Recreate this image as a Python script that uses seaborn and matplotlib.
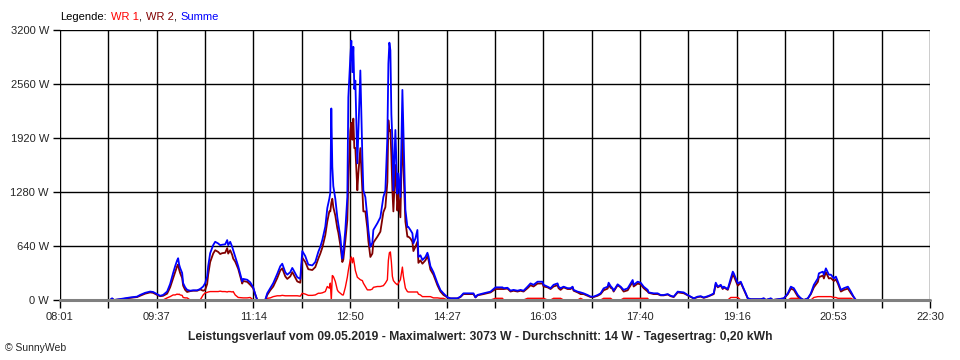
import matplotlib
matplotlib.use("Agg")
import matplotlib.pyplot as plt
import seaborn as sns
import pandas as pd

# ---- data (minutes of day, watts) ----
t = [531,533,535,543,551,558,561,566,571,574,
     578,581,584,588,591,594,596,598,599,600,
     601,603,604,606,608,611,614,618,621,624,
     626,628,629,631,634,636,639,641,643,646,
     648,649,651,653,654,656,659,663,664,668,
     671,674,676,678,686,688,691,694,698,701,
     703,706,708,711,713,714,718,721,723,726,
     729,733,736,739,741,743,746,748,750,751,
     752,753,754,756,758,759,761,763,764,766,
     768,769,771,772,773,774,775,776,778,779,
     781,783,784,786,788,789,791,793,794,798,
     801,804,806,808,809,810,811,812,813,814,
     816,818,819,821,823,824,826,828,829,831,
     833,834,836,838,839,841,843,846,848,849,
     851,854,858,861,864,868,871,878,881,884,
     894,896,898,904,911,916,923,924,928,931,
     934,938,941,944,948,951,954,958,963,964,
     968,971,974,978,979,981,984,988,991,993,
     994,998,1001,1004,1008,1011,1014,1018,1021,1024,
     1028,1029,1031,1033,1034,1038,1041,1044,1048,1051,
     1053,1054,1058,1061,1064,1068,1069,1074,1078,1081,
     1084,1088,1091,1094,1098,1104,1108,1111,1114,1118,
     1121,1124,1128,1131,1134,1136,1138,1141,1143,1144,
     1148,1151,1153,1154,1158,1161,1163,1166,1168,1171,
     1181,1184,1186,1191,1193,1204,1208,1211,1214,1218,
     1221,1224,1228,1231,1234,1238,1239,1243,1244,1246,
     1249,1251,1254,1256,1258,1261,1264,1268,1271,1274,
     1276]

summe = [0,20,0,15,30,40,60,85,100,95,
         70,50,60,100,190,320,400,470,495,420,
         380,320,200,150,120,110,115,115,130,160,
         200,280,400,555,650,690,670,650,655,660,
         710,650,690,630,590,515,400,220,250,240,
         210,150,70,0,0,80,140,200,310,400,
         430,330,300,330,380,360,270,250,580,520,
         420,410,450,570,630,710,870,1090,1200,1270,
         2270,1580,1350,1200,980,900,750,490,560,830,
         1220,2400,2880,3073,2700,3000,2500,2600,1620,2000,
         2720,1700,1300,1220,980,830,630,680,830,910,
         980,1220,1300,1930,2800,3050,2960,2200,1900,1300,
         2015,1260,1500,1220,2490,2000,1070,865,865,830,
         790,672,730,830,510,530,474,510,560,520,
         400,330,200,118,79,32,20,20,40,79,
         79,32,60,79,99,150,150,140,145,111,
         120,110,120,110,158,197,180,217,217,180,
         158,140,180,197,158,140,158,140,140,158,
         120,99,90,79,59,40,40,59,79,138,
         158,205,165,138,110,186,158,120,138,197,
         237,180,217,205,158,120,90,79,79,59,
         59,70,50,40,99,90,59,40,20,40,
         45,30,45,59,79,205,158,180,140,158,
         130,257,336,316,197,217,158,79,20,10,
         10,20,0,20,0,20,79,158,140,59,
         20,0,20,79,180,257,316,336,300,375,
         300,300,257,277,217,120,140,158,99,32,
         0]

wr1 = [0,0,0,0,0,0,0,0,0,0,
       0,0,0,25,40,60,60,70,65,70,
       60,55,30,25,25,0,0,0,0,60,
       85,90,95,100,100,100,100,105,100,100,
       95,100,100,95,100,60,30,25,25,25,
       30,0,0,0,0,20,25,40,50,50,
       55,50,50,50,50,50,50,45,80,70,
       55,55,60,80,80,85,100,160,140,200,
       0,290,280,220,120,100,80,60,60,150,
       270,350,480,510,440,500,430,350,270,260,
       240,230,200,160,120,120,120,130,150,160,
       160,170,200,240,470,560,570,450,280,230,
       200,180,200,240,390,280,140,100,95,95,
       95,95,95,95,70,60,40,40,40,40,
       40,25,25,20,20,0,0,0,0,0,
       0,0,0,0,0,20,20,0,0,0,
       0,0,0,0,20,20,20,20,20,20,
       0,0,20,20,20,20,0,0,0,0,
       0,0,20,0,0,0,0,0,0,20,
       20,20,20,0,0,0,0,20,20,20,
       20,20,20,20,20,20,0,0,0,0,
       0,0,0,0,0,0,0,0,0,0,
       0,0,0,0,0,0,0,0,0,0,
       0,30,30,30,30,0,0,0,0,0,
       0,0,0,0,0,0,0,20,20,20,
       0,0,0,0,30,40,40,40,40,40,
       40,40,30,30,20,20,20,20,20,0,
       0]

wr2 = [0,15,0,10,25,35,50,75,90,85,
       60,45,50,75,150,260,330,400,420,360,
       320,260,170,120,95,105,110,110,125,110,
       120,190,300,450,550,590,570,545,555,560,
       615,550,590,535,490,455,370,195,225,215,
       180,140,65,0,0,60,115,160,260,350,
       375,280,250,280,330,310,220,205,500,450,
       365,355,390,490,550,620,770,930,1050,1050,
       1150,1200,1100,1000,850,800,650,450,480,700,
       950,1420,2000,2100,1900,2150,1800,1800,1300,1500,
       1800,1300,1050,1050,850,700,510,550,680,750,
       810,1040,1100,1400,2130,2000,2015,1700,1300,1050,
       1600,1060,1250,980,2050,1600,930,750,750,730,
       690,580,630,690,440,470,430,470,520,480,
       360,300,175,100,60,30,18,18,35,70,
       70,30,55,70,90,130,130,130,135,100,
       110,100,110,100,140,175,160,195,195,160,
       150,130,160,175,140,120,150,130,130,150,
       110,90,70,70,50,35,35,50,70,115,
       135,180,145,130,100,175,150,100,115,175,
       215,160,195,185,140,100,85,70,70,55,
       55,65,45,35,90,80,55,35,18,35,
       40,25,40,55,70,190,150,170,130,150,
       120,225,300,285,170,205,150,70,18,8,
       8,18,0,15,0,18,70,135,120,40,
       18,0,18,70,150,215,270,290,255,330,
       255,260,225,245,195,100,120,135,80,30,
       0]

x_tick_labels = ["08:01", "09:37", "11:14", "12:50", "14:27",
                 "16:03", "17:40", "19:16", "20:53", "22:30"]
y_ticks = [0, 640, 1280, 1920, 2560, 3200]
t_start, t_end = 481, 1350

title_text = ("Leistungsverlauf vom 09.05.2019 - Maximalwert: 3073 W - "
              "Durchschnitt: 14 W - Tagesertrag: 0,20 kWh")

df = pd.DataFrame({"t": t, "WR 1": wr1, "WR 2": wr2, "Summe": summe})

sns.set_style("white")
plt.rcParams["font.family"] = ["Liberation Sans", "DejaVu Sans"]

fig = plt.figure(figsize=(9.6, 3.6), dpi=100)
ax = fig.add_axes([60 / 960, 60 / 360, 870 / 960, 270 / 360])

colors = {"WR 1": "#ff0000", "WR 2": "#800000", "Summe": "#0000ff"}
widths = {"WR 1": 1.0, "WR 2": 1.3, "Summe": 1.3}
for name in ["WR 1", "WR 2", "Summe"]:
    sns.lineplot(data=df, x="t", y=name, ax=ax, color=colors[name],
                 linewidth=widths[name], estimator=None, sort=False, zorder=3)

ax.set_xlim(t_start, t_end)
ax.set_ylim(0, 3200)
step = (t_end - t_start) / 18
xt = [t_start + i * step for i in range(19)]
ax.set_xticks(xt)
ax.set_xticklabels([x_tick_labels[i // 2] if i % 2 == 0 else "" for i in range(19)])
ax.set_yticks(y_ticks)
ax.set_yticklabels([f"{v} W" for v in y_ticks])
ax.set_xlabel("")
ax.set_ylabel("")
for s in ax.spines.values():
    s.set_visible(False)
ax.grid(True, color="black", linewidth=1.0)
ax.set_axisbelow(True)
ax.axhline(0, color="#808080", linewidth=2.2, zorder=6, clip_on=False)
ax.tick_params(axis="x", direction="out", length=6, width=1, color="black",
               labelsize=8, pad=3, bottom=True)
ax.tick_params(axis="y", direction="out", length=5, width=1, color="black",
               labelsize=8, pad=3, left=True)

# legend as coloured text
renderer = fig.canvas.get_renderer()
parts = [("Legende:", "black", 4), ("WR 1", "#ff0000", 0), (",", "black", 4),
         ("WR 2", "#800000", 0), (",", "black", 4), ("Summe", "#0000ff", 0)]
xpix = 60
for s, c, gap in parts:
    tx = fig.text(xpix / 960, 1 - 17 / 360, s, color=c, fontsize=8, va="center", ha="left")
    bb = tx.get_window_extent(renderer)
    xpix = bb.x1 + gap

fig.text(480 / 960, 1 - 337 / 360, title_text, fontsize=8.7, fontweight="bold",
         ha="center", va="center")
fig.text(5 / 960, 1 - 348 / 360, "© SunnyWeb", fontsize=7.5, ha="left", va="center")

fig.savefig("out.png", dpi=100)
